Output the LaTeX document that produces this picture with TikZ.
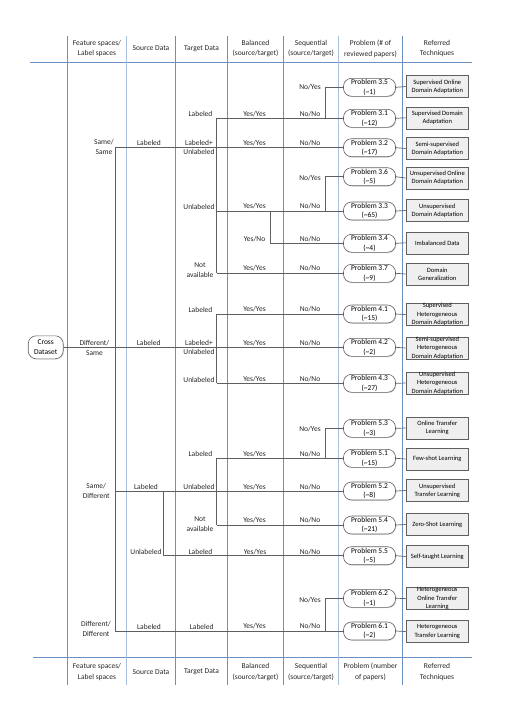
\documentclass[tikz,border=0pt]{standalone}
\usepackage{fontspec}
\setmainfont{Carlito}
\usetikzlibrary{shadows}
\definecolor{colblue}{HTML}{6A8FC3}
\definecolor{colblueL}{HTML}{A9C0DD}
\definecolor{treegray}{HTML}{5F5F5F}
\definecolor{boxgray}{HTML}{EFEFEF}
\begin{document}
\begin{tikzpicture}[x=1pt,y=-1pt,
  lbl/.style={font=\fontsize{7.5}{9.8}\selectfont, align=center, inner sep=0pt, text=black!85},
  hdr/.style={font=\fontsize{7.5}{10.8}\selectfont, align=center, inner sep=0pt, text=black!85},
  prob/.style={draw=treegray, fill=white, rounded corners=8pt, minimum width=52pt, minimum height=18pt,
    inner sep=0pt, align=center, font=\fontsize{7.5}{9.5}\selectfont, line width=0.6pt,
    drop shadow={opacity=0.25, shadow xshift=0.8pt, shadow yshift=-0.8pt}},
  ref/.style={draw=treegray, fill=boxgray, minimum width=62.7pt, minimum height=22pt,
    inner sep=0pt, align=center, font=\fontsize{6.5}{8.3}\selectfont, line width=0.6pt,
    drop shadow={opacity=0.25, shadow xshift=0.8pt, shadow yshift=-0.8pt}},
  tree/.style={draw=treegray, line width=0.7pt},
  colline/.style={draw=colblue, line width=0.8pt},
  collineL/.style={draw=colblueL, line width=1.3pt}
]
\useasboundingbox (0,0) rectangle (505,721);

% column grid
\draw[colline] (30,62) -- (472,62);
\draw[colline] (33,657.7) -- (472,657.7);
\foreach \x in {67.7,175.3,227.7,283.3,402} {\draw[colline] (\x,36) -- (\x,685);}
\foreach \x in {126.7,338.7} {\draw[collineL] (\x,36) -- (\x,685);}

% headers
\node[hdr] (h1) at (97,48.5) {Feature spaces/\\Label spaces};
\node[hdr] (h2) at (151,48.5) {Source Data};
\node[hdr] (h3) at (201.5,48.5) {Target Data};
\node[hdr] (h4) at (255.5,48.5) {Balanced\\(source/target)};
\node[hdr] (h5) at (311,48.5) {Sequential\\(source/target)};
\node[hdr] (h6) at (370.5,48.5) {Problem (\# of\\reviewed papers)};
\node[hdr] (h7) at (437,48.5) {Referred\\Techniques};

\node[hdr] (f1) at (97,672) {Feature spaces/\\Label spaces};
\node[hdr] (f2) at (151,672) {Source Data};
\node[hdr] (f3) at (201.5,672) {Target Data};
\node[hdr] (f4) at (255.5,672) {Balanced\\(source/target)};
\node[hdr] (f5) at (311,672) {Sequential\\(source/target)};
\node[hdr] (f6) at (370.5,672) {Problem (number\\of papers)};
\node[hdr] (f7) at (437,672) {Referred\\Techniques};

% root
\node[prob, minimum width=35pt, minimum height=23pt] (cd) at (45.7,347.3) {Cross\\Dataset};

% problems
\foreach \n/\y/\t in {35/87.3/{Problem 3.5\\(\textasciitilde1)},
                     31/118.3/{Problem 3.1\\(\textasciitilde12)},
                     32/147.7/{Problem 3.2\\(\textasciitilde17)},
                     36/176.7/{Problem 3.6\\(\textasciitilde5)},
                     33/211/{Problem 3.3\\(\textasciitilde65)},
                     34/243.3/{Problem 3.4\\(\textasciitilde4)},
                     37/273.3/{Problem 3.7\\(\textasciitilde9)},
                     41/314/{Problem 4.1\\(\textasciitilde15)},
                     42/347.3/{Problem 4.2\\(\textasciitilde2)},
                     43/383.3/{Problem 4.3\\(\textasciitilde27)},
                     53/428.3/{Problem 5.3\\(\textasciitilde3)},
                     51/458.3/{Problem 5.1\\(\textasciitilde15)},
                     52/491/{Problem 5.2\\(\textasciitilde8)},
                     54/525/{Problem 5.4\\(\textasciitilde21)},
                     55/555.7/{Problem 5.5\\(\textasciitilde5)},
                     62/598.3/{Problem 6.2\\(\textasciitilde1)},
                     61/631/{Problem 6.1\\(\textasciitilde2)}}
  {\node[prob] (p\n) at (369.5,\y) {\t};}

% referred techniques
\foreach \n/\y/\t in {35/86.5/{Supervised Online\\Domain Adaptation},
                     31/117.8/{Supervised Domain\\Adaptation},
                     32/148.5/{Semi-supervised\\Domain Adaptation},
                     36/178/{Unsupervised Online\\Domain Adaptation},
                     33/210.5/{Unsupervised\\Domain Adaptation},
                     34/242.8/{Imbalanced Data},
                     37/274/{Domain\\Generalization},
                     41/314.5/{Supervised\\Heterogeneous\\Domain Adaptation},
                     42/348/{Semi-supervised\\Heterogeneous\\Domain Adaptation},
                     43/383/{Unsupervised\\Heterogeneous\\Domain Adaptation},
                     53/428/{Online Transfer\\Learning},
                     51/459/{Few-shot Learning},
                     52/490.5/{Unsupervised\\Transfer Learning},
                     54/524.5/{Zero-Shot Learning},
                     55/556.5/{Self-taught Learning},
                     62/598.5/{Heterogeneous\\Online Transfer\\Learning},
                     61/631.5/{Heterogeneous\\Transfer Learning}}
  {\node[ref] (r\n) at (437.3,\y) {\t};}

\foreach \n in {35,31,32,36,33,34,37,41,42,43,53,51,52,54,55,62,61}
  {\draw[tree] (p\n.east) -- (r\n.west);}

% tree junctions
\coordinate (ta) at (115.3,147.7);
\coordinate (tc) at (115.3,491);
\coordinate (tb) at (115.3,631);
\coordinate (a1) at (216.7,118.3);
\coordinate (a2) at (216.7,273.3);
\coordinate (a3) at (216.7,211);
\coordinate (s1) at (325,118.3);
\coordinate (s2) at (325,211);
\coordinate (b1) at (270,211);
\coordinate (c1) at (216.7,314);
\coordinate (c2) at (216.7,383.3);
\coordinate (d1) at (216.7,458.3);
\coordinate (d2) at (216.7,525);
\coordinate (s3) at (325,458.3);
\coordinate (e1) at (163.3,491);
\coordinate (s4) at (325,631);

\draw[tree] (ta) -- (tb);
% Same/Same
\draw[tree] (ta) -- (p32.west);
\draw[tree] (a1) -- (a2);
\draw[tree] (a1) -- (p31.west);
\draw[tree] (s1) |- (p35.west);
\draw[tree] (a3) -- (p33.west);
\draw[tree] (s2) |- (p36.west);
\draw[tree] (b1) |- (p34.west);
\draw[tree] (a2) -- (p37.west);
% Different/Same
\draw[tree] (cd.east) -- (p42.west);
\draw[tree] (c1) -- (c2);
\draw[tree] (c1) -- (p41.west);
\draw[tree] (c2) -- (p43.west);
% Same/Different
\draw[tree] (tc) -- (p52.west);
\draw[tree] (d1) -- (d2);
\draw[tree] (d1) -- (p51.west);
\draw[tree] (d2) -- (p54.west);
\draw[tree] (s3) |- (p53.west);
\draw[tree] (e1) |- (p55.west);
% Different/Different
\draw[tree] (tb) -- (p61.west);
\draw[tree] (s4) |- (p62.west);

% labels: Same/Same
\node[lbl] (l1) at (104,147) {Same/\\Same};
\node[lbl] (l2) at (149,143.2) {Labeled};
\node[lbl] (l3) at (200.5,113.8) {Labeled};
\node[lbl] (l4) at (199,147.5) {Labeled+\\Unlabeled};
\node[lbl] (l5) at (199,206.5) {Unlabeled};
\node[lbl] (l6) at (200,270.3) {Not\\available};
\node[lbl] (l7) at (254.5,113.8) {Yes/Yes};
\node[lbl] (l8) at (254.5,143.2) {Yes/Yes};
\node[lbl] (l9) at (254.5,206.5) {Yes/Yes};
\node[lbl] (l10) at (254.5,238.8) {Yes/No};
\node[lbl] (l11) at (254.5,268.5) {Yes/Yes};
\node[lbl] (l12) at (310,87.5) {No/Yes};
\node[lbl] (l13) at (310,113.8) {No/No};
\node[lbl] (l14) at (310,143.2) {No/No};
\node[lbl] (l15) at (310,178.5) {No/Yes};
\node[lbl] (l16) at (310,206.5) {No/No};
\node[lbl] (l17) at (310,238.8) {No/No};
\node[lbl] (l18) at (310,268) {No/No};
% Different/Same
\node[lbl] (m1) at (94.5,348) {Different/\\Same};
\node[lbl] (m2) at (148.7,343) {Labeled};
\node[lbl] (m3) at (200.5,309.5) {Labeled};
\node[lbl] (m4) at (199,347.5) {Labeled+\\Unlabeled};
\node[lbl] (m5) at (199,379.5) {Unlabeled};
\node[lbl] (m6) at (254.5,309.5) {Yes/Yes};
\node[lbl] (m7) at (254.5,343) {Yes/Yes};
\node[lbl] (m8) at (254.5,379) {Yes/Yes};
\node[lbl] (m9) at (310,309.5) {No/No};
\node[lbl] (m10) at (310,343) {No/No};
\node[lbl] (m11) at (310,379) {No/No};
% Same/Different
\node[lbl] (n1) at (96.3,490.7) {Same/\\Different};
\node[lbl] (n2) at (146,487) {Labeled};
\node[lbl] (n3) at (146,552) {Unlabeled};
\node[lbl] (n4) at (200.5,454) {Labeled};
\node[lbl] (n5) at (199,487) {Unlabeled};
\node[lbl] (n6) at (200,524.3) {Not\\available};
\node[lbl] (n7) at (200.5,552) {Labeled};
\node[lbl] (n8) at (254.5,454) {Yes/Yes};
\node[lbl] (n9) at (254.5,487) {Yes/Yes};
\node[lbl] (n10) at (254.5,520) {Yes/Yes};
\node[lbl] (n11) at (255,552) {Yes/Yes};
\node[lbl] (n12) at (310,429) {No/Yes};
\node[lbl] (n13) at (310,454) {No/No};
\node[lbl] (n14) at (310,487) {No/No};
\node[lbl] (n15) at (310,520) {No/No};
\node[lbl] (n16) at (310,552) {No/No};
% Different/Different
\node[lbl] (o1) at (96,629) {Different/\\Different};
\node[lbl] (o2) at (149,626.5) {Labeled};
\node[lbl] (o3) at (201.7,626.5) {Labeled};
\node[lbl] (o4) at (254.5,626.5) {Yes/Yes};
\node[lbl] (o5) at (310,600) {No/Yes};
\node[lbl] (o6) at (310,626.5) {No/No};
\end{tikzpicture}
\end{document}
